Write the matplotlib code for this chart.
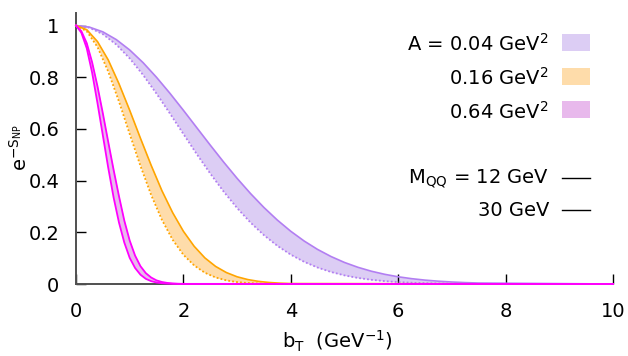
import matplotlib
matplotlib.use('Agg')
import matplotlib.pyplot as plt
from matplotlib.patches import Rectangle
from matplotlib.lines import Line2D

plt.rcParams['font.family'] = ['DejaVu Sans']
plt.rcParams['mathtext.default'] = 'regular'

# ---- data ----
# A = 0.64 GeV^2 band
b_mag = [0, 0.1, 0.2, 0.3, 0.4, 0.5, 0.6, 0.7, 0.8, 0.9, 1.0, 1.1, 1.2, 1.3, 1.4, 1.5,
         1.6, 1.7, 1.8, 1.9, 2.0, 10]
mag_12 = [1, 0.978, 0.932, 0.858, 0.765, 0.66, 0.55, 0.442, 0.34, 0.245, 0.168, 0.11,
          0.069, 0.042, 0.025, 0.014, 0.0078, 0.0042, 0.0022, 0.0011, 0.0005, 0]
mag_30 = [1, 0.972, 0.912, 0.818, 0.70, 0.575, 0.45, 0.335, 0.238, 0.16, 0.101, 0.062,
          0.036, 0.02, 0.011, 0.0058, 0.003, 0.0015, 0.0007, 0.0003, 0.0001, 0]

# A = 0.16 GeV^2 band
b_org = [0, 0.2, 0.4, 0.6, 0.8, 1.0, 1.2, 1.4, 1.6, 1.8, 2.0, 2.2, 2.4, 2.6, 2.8, 3.0,
         3.2, 3.4, 3.6, 3.8, 4.0, 10]
org_12 = [1, 0.984, 0.938, 0.867, 0.775, 0.672, 0.564, 0.459, 0.361, 0.276, 0.204, 0.146,
          0.101, 0.068, 0.0443, 0.0279, 0.0171, 0.0101, 0.0058, 0.0032, 0.0017, 0]
org_30 = [1, 0.978, 0.917, 0.822, 0.706, 0.580, 0.457, 0.344, 0.248, 0.171, 0.113, 0.0718,
          0.0435, 0.0253, 0.0140, 0.0075, 0.0038, 0.0019, 0.00087, 0.00039, 0.00017, 0]

# A = 0.04 GeV^2 band
b_pur = [0, 0.25, 0.5, 0.75, 1.0, 1.25, 1.5, 1.75, 2.0, 2.25, 2.5, 2.75, 3.0, 3.25, 3.5,
         3.75, 4.0, 4.25, 4.5, 4.75, 5.0, 5.25, 5.5, 5.75, 6.0, 6.25, 6.5, 6.75, 7.0, 7.25,
         7.5, 10]
pur_12 = [1, 0.9938, 0.9755, 0.9456, 0.9054, 0.8562, 0.7995, 0.7376, 0.6720, 0.6046,
          0.5373, 0.4716, 0.4088, 0.3500, 0.2959, 0.2472, 0.2039, 0.1661, 0.1336, 0.1062,
          0.0833, 0.0646, 0.0494, 0.0374, 0.0279, 0.0206, 0.0150, 0.0108, 0.0077, 0.0054,
          0.0037, 0]
pur_30 = [1, 0.9915, 0.9666, 0.9264, 0.8728, 0.8085, 0.7363, 0.6593, 0.5803, 0.5022,
          0.4273, 0.3574, 0.2939, 0.2376, 0.1889, 0.1476, 0.1134, 0.0857, 0.0636, 0.0464,
          0.0333, 0.0235, 0.0163, 0.0111, 0.0075, 0.0049, 0.0032, 0.0020, 0.0013, 0.0008,
          0.0005, 0]

x_ticks = [0, 2, 4, 6, 8, 10]
y_ticks = [0, 0.2, 0.4, 0.6, 0.8, 1.0]
y_ticklabels = ['0', '0.2', '0.4', '0.6', '0.8', '1']
band_labels = ['A = 0.04 GeV$^2$', '0.16 GeV$^2$', '0.64 GeV$^2$']
mass_labels = ['M$_{QQ}$ = 12 GeV', '30 GeV']

# ---- styling ----
W, H = 628, 356
FS = 14
fig = plt.figure(figsize=(W / 100, H / 100), dpi=100)
ax = fig.add_axes([76 / W, (H - 284) / H, (613 - 76) / W, 271.4 / H])

pur_line, pur_fill = '#b27ef2', '#dccdf4'
org_line, org_fill = '#ffa500', '#fedcaa'
mag_line, mag_fill = '#ff00ff', '#e8b9ec'
dot = (0, (1.0, 1.2))

ax.fill_between(b_pur, pur_30, pur_12, color=pur_fill, lw=0, zorder=1)
ax.fill_between(b_org, org_30, org_12, color=org_fill, lw=0, zorder=1)
ax.fill_between(b_mag, mag_30, mag_12, color=mag_fill, lw=0, zorder=1)

ax.plot(b_pur, pur_30, color=pur_line, lw=1.3, ls=dot, zorder=3, clip_on=False)
ax.plot(b_pur, pur_12, color=pur_line, lw=1.2, zorder=3, clip_on=False)
ax.plot(b_org, org_30, color=org_line, lw=1.3, ls=dot, zorder=3, clip_on=False)
ax.plot(b_org, org_12, color=org_line, lw=1.2, zorder=3, clip_on=False)
ax.plot(b_mag, mag_30, color=mag_line, lw=1.3, zorder=3, clip_on=False)
ax.plot(b_mag, mag_12, color=mag_line, lw=1.3, zorder=3, clip_on=False)

ax.set_xlim(0, 10)
ax.set_ylim(0, 1.05)
ax.set_xticks(x_ticks)
ax.set_xticklabels([str(v) for v in x_ticks])
ax.set_yticks(y_ticks)
ax.set_yticklabels(y_ticklabels)
for s in ['top', 'right']:
    ax.spines[s].set_visible(False)
for s in ['left', 'bottom']:
    ax.spines[s].set_color('#505050')
    ax.spines[s].set_linewidth(1.4)
ax.tick_params(direction='in', length=7, width=1, color='black', labelsize=FS)
ax.tick_params(axis='x', pad=13)
ax.tick_params(axis='y', pad=12)

fig.text(337 / W, 1 - 341 / H, r'b$_T$  (GeV$^{-1}$)', ha='center', va='center', fontsize=FS)
fig.text(20 / W, 1 - 148 / H, r'e$^{-S_{NP}}$', ha='center', va='center', rotation=90, fontsize=FS)

# legend (key)
rows = [44, 78, 112]
fills = [pur_fill, org_fill, mag_fill]
for lab, yc, fc in zip(band_labels, rows, fills):
    fig.text(549 / W, 1 - yc / H, lab, ha='right', va='center', fontsize=FS)
    fig.add_artist(Rectangle((562 / W, 1 - (yc + 6.5) / H), 28 / W, 17 / H,
                             transform=fig.transFigure, facecolor=fc, edgecolor='none'))
for lab, yc in zip(mass_labels, [179, 211]):
    fig.text(549 / W, 1 - yc / H, lab, ha='right', va='center', fontsize=FS)
    fig.add_artist(Line2D([562 / W, 590 / W], [1 - (yc - 1.5) / H] * 2,
                          transform=fig.transFigure, color='black', lw=1))

fig.savefig('out.png', dpi=100)
